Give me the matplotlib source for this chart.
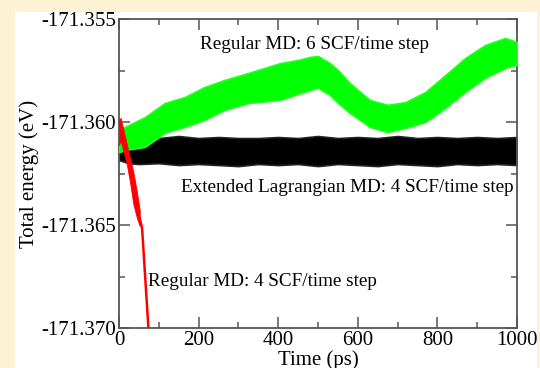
import matplotlib
matplotlib.use("Agg")
import matplotlib.pyplot as plt
from matplotlib.patches import Rectangle
from matplotlib.ticker import MultipleLocator, FormatStrFormatter


# envelopes of the noisy traces (time in ps, energy in eV)
green_t = [0, 15, 65, 115, 165, 215, 265, 325, 405, 450, 480, 500, 530,
           550, 580, 630, 675, 720, 770, 820, 870, 920, 970, 1000]
green_hi = [-171.36029, -171.36024, -171.35976, -171.35908, -171.35879,
            -171.35830, -171.35796, -171.35762, -171.35714, -171.35699,
            -171.35684, -171.35680, -171.35714, -171.35748, -171.35811,
            -171.35893, -171.35917, -171.35903, -171.35854, -171.35772,
            -171.35689, -171.35626, -171.35592, -171.35612]
green_lo = [-171.36146, -171.36136, -171.36121, -171.36053, -171.36024,
            -171.35990, -171.35942, -171.35908, -171.35893, -171.35864,
            -171.35845, -171.35835, -171.35869, -171.35908, -171.35956,
            -171.36024, -171.36049, -171.36029, -171.36000, -171.35932,
            -171.35854, -171.35786, -171.35738, -171.35723]

black_t = [0, 25, 50, 100, 150, 200, 250, 300, 350, 400, 450, 500,
           550, 600, 650, 700, 750, 800, 850, 900, 950, 1000]
black_hi = [-171.36097, -171.36083, -171.36073, -171.36078, -171.36068,
            -171.36078, -171.36073, -171.36078, -171.36078, -171.36073,
            -171.36078, -171.36068, -171.36078, -171.36073, -171.36078,
            -171.36068, -171.36078, -171.36073, -171.36078, -171.36073,
            -171.36078, -171.36073]
black_lo = [-171.36185, -171.36200, -171.36204, -171.36200, -171.36209,
            -171.36204, -171.36209, -171.36214, -171.36204, -171.36209,
            -171.36204, -171.36214, -171.36204, -171.36209, -171.36214,
            -171.36204, -171.36209, -171.36214, -171.36204, -171.36209,
            -171.36204, -171.36209]

red_t = [0, 4, 10, 20, 28, 36, 45, 52]
red_hi = [-171.35990, -171.35980, -171.36029, -171.36112, -171.36175,
          -171.36243, -171.36340, -171.36427]
red_lo = [-171.36112, -171.36087, -171.36136, -171.36209, -171.36296,
          -171.36398, -171.36466, -171.36505]
red_tail_t = [52, 58, 75]
red_tail_e = [-171.36466, -171.36515, -171.37034]

labels = ["Regular MD: 6 SCF/time step",
          "Extended Lagrangian MD: 4 SCF/time step",
          "Regular MD: 4 SCF/time step"]

plt.rcParams["font.family"] = ["Liberation Serif", "DejaVu Serif"]

fig = plt.figure(figsize=(5.4, 3.68), dpi=100, facecolor="#fdf1d6")
fig.patches.append(Rectangle((15 / 540, 0), 522 / 540, 356 / 368,
                             transform=fig.transFigure, facecolor="white",
                             edgecolor="none", zorder=-10))

ax = fig.add_axes([119 / 540, 40 / 368, 398 / 540, 309 / 368])
ax.set_zorder(1)
ax.set_facecolor("white")

ax.fill_between(black_t, black_lo, black_hi, facecolor="black",
                edgecolor="#222222", lw=1.2, zorder=2)
ax.fill_between(green_t, green_lo, green_hi, facecolor="#00ff00",
                edgecolor="#22ff22", lw=1.2, zorder=3)
ax.fill_between(red_t, red_lo, red_hi, color="red", lw=0.6, zorder=4)
ax.plot(red_tail_t, red_tail_e, color="red", lw=1.8, zorder=4)

ax.text(492, -171.35626, labels[0], ha="center", va="center", fontsize=13.8)
ax.text(573, -171.36316, labels[1], ha="center", va="center", fontsize=13.8)
ax.text(73, -171.36772, labels[2], ha="left", va="center", fontsize=13.8)

ax.set_xlim(0, 1000)
ax.set_ylim(-171.370, -171.355)
ax.xaxis.set_major_locator(MultipleLocator(200))
ax.xaxis.set_minor_locator(MultipleLocator(100))
ax.yaxis.set_major_locator(MultipleLocator(0.005))
ax.yaxis.set_minor_locator(MultipleLocator(0.0025))
ax.yaxis.set_major_formatter(FormatStrFormatter("%.3f"))

for s in ax.spines.values():
    s.set_color("#555555")
    s.set_linewidth(1.3)
ax.tick_params(which="both", direction="in", top=True, right=True,
               color="#555555", width=1.1, labelsize=15, pad=2)
ax.tick_params(which="major", length=8)
ax.tick_params(which="minor", length=4)

ax.set_xlabel("Time (ps)", fontsize=15, labelpad=0)
ax.set_ylabel("Total energy (eV)", fontsize=15, labelpad=2)

fig.savefig("out.png", dpi=100, facecolor=fig.get_facecolor())
